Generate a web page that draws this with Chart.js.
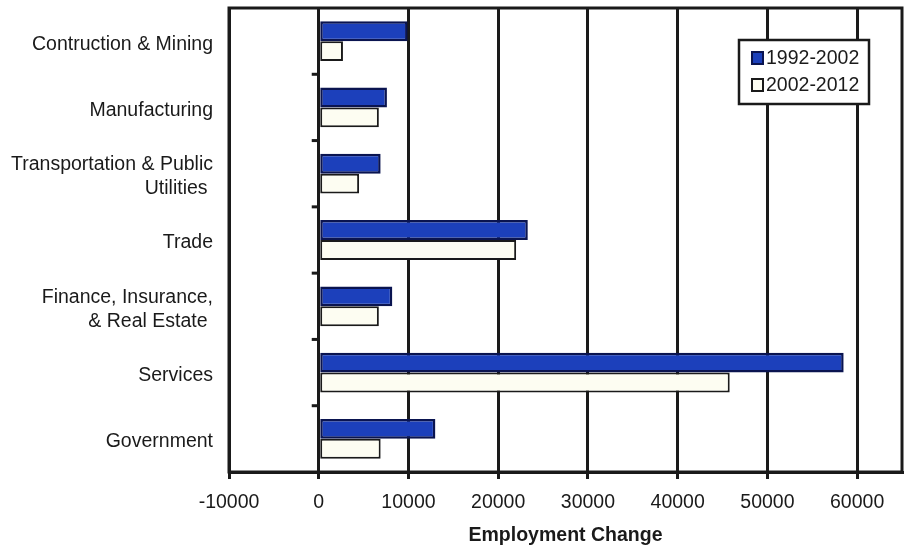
<!DOCTYPE html>
<html>
<head>
<meta charset="utf-8">
<script src="https://cdn.jsdelivr.net/npm/chart.js@4/dist/chart.umd.min.js"></script>
<style>
  html, body { margin: 0; padding: 0; background: #fff; }
  #wrap { width: 905px; height: 546px; }
</style>
</head>
<body>
<div id="wrap"><canvas id="c" width="905" height="546"></canvas></div>
<script>
// Employment change by industry, two ten-year periods
const categories = [
  'Contruction & Mining',
  'Manufacturing',
  ['Transportation & Public', 'Utilities '],
  'Trade',
  ['Finance, Insurance,', '& Real Estate '],
  'Services',
  'Government'
];
const change1992to2002 = [9900, 7600, 6900, 23300, 8200, 58500, 13000];
const change2002to2012 = [2700, 6700, 4500, 22000, 6700, 45800, 6900];
const seriesNames = ['1992-2002', '2002-2012'];
const xTickValues = [-10000, 0, 10000, 20000, 30000, 40000, 50000, 60000];
const xMin = -10000, xMax = 65000;

const FONT = "'Liberation Sans', Arial, Helvetica, sans-serif";
const FONT_SIZE = 19.5;
const INK = '#1a1a1a';

// Frame around the plot plus small category tick marks on the zero line
const framePlugin = {
  id: 'frame',
  afterDatasetsDraw(chart) {
    const { ctx, chartArea: a, scales } = chart;
    const x0 = scales.x.getPixelForValue(0);
    ctx.save();
    ctx.strokeStyle = INK;
    ctx.lineWidth = 3;
    for (let i = 0; i < categories.length - 1; i++) {
      const y = (scales.y.getPixelForValue(i) + scales.y.getPixelForValue(i + 1)) / 2;
      ctx.beginPath();
      ctx.moveTo(x0 - 7, y);
      ctx.lineTo(x0, y);
      ctx.stroke();
    }
    ctx.strokeRect(a.left, a.top, a.right - a.left, a.bottom - a.top);
    ctx.restore();
  }
};

// Boxed legend inside the plot, upper right
const boxLegendPlugin = {
  id: 'boxLegend',
  afterDraw(chart) {
    const { ctx } = chart;
    const bx = 739, by = 40, bw = 130, bh = 64;
    ctx.save();
    ctx.fillStyle = '#fff';
    ctx.fillRect(bx, by, bw, bh);
    ctx.strokeStyle = INK;
    ctx.lineWidth = 2.5;
    ctx.strokeRect(bx, by, bw, bh);
    ctx.font = FONT_SIZE + 'px ' + FONT;
    ctx.textBaseline = 'middle';
    chart.data.datasets.forEach((ds, i) => {
      const cy = by + 18 + i * 27;
      ctx.fillStyle = ds.backgroundColor;
      ctx.fillRect(752, cy - 6, 11, 12);
      ctx.strokeStyle = ds.borderColor;
      ctx.lineWidth = 2;
      ctx.strokeRect(752, cy - 6, 11, 12);
      ctx.fillStyle = INK;
      ctx.fillText(ds.label, 766, cy + 1);
    });
    ctx.restore();
  }
};

new Chart(document.getElementById('c'), {
  type: 'bar',
  data: {
    labels: categories,
    datasets: [
      {
        label: seriesNames[0],
        data: change1992to2002,
        backgroundColor: '#1c40bb',
        borderColor: '#0a1450',
        borderWidth: 2.5,
        borderSkipped: false
      },
      {
        label: seriesNames[1],
        data: change2002to2012,
        backgroundColor: '#fdfdf2',
        borderColor: '#1a1a1a',
        borderWidth: 2,
        borderSkipped: false
      }
    ]
  },
  options: {
    indexAxis: 'y',
    responsive: false,
    animation: false,
    devicePixelRatio: 1,
    layout: { padding: { top: 8, right: 3, bottom: 0, left: 0 } },
    categoryPercentage: 0.6,
    barPercentage: 1.0,
    plugins: {
      legend: { display: false },
      tooltip: { enabled: false }
    },
    scales: {
      x: {
        type: 'linear',
        min: xMin,
        max: xMax,
        afterBuildTicks(scale) {
          scale.ticks = xTickValues.map(v => ({ value: v }));
        },
        afterFit(scale) {
          scale.height = 74;
          scale.paddingLeft = 0;
          scale.paddingRight = 0;
        },
        grid: {
          color: INK,
          lineWidth: 3,
          drawTicks: true,
          tickLength: 7,
          tickColor: INK,
          tickWidth: 3
        },
        border: { display: true, color: INK, width: 3 },
        ticks: {
          color: INK,
          font: { family: FONT, size: FONT_SIZE },
          padding: 12,
          maxRotation: 0,
          autoSkip: false,
          callback: v => String(v)
        },
        title: {
          display: true,
          text: 'Employment Change',
          color: INK,
          font: { family: FONT, size: FONT_SIZE, weight: 'bold' },
          padding: { top: 0, bottom: -1 }
        }
      },
      y: {
        type: 'category',
        afterFit(scale) {
          scale.width = 229;
          scale.paddingTop = 0;
          scale.paddingBottom = 0;
        },
        grid: { display: false, drawTicks: false },
        border: { display: false },
        ticks: {
          color: INK,
          font: { family: FONT, size: FONT_SIZE, lineHeight: 1.22 },
          padding: 16,
          labelOffset: 3,
          autoSkip: false
        }
      }
    }
  },
  plugins: [framePlugin, boxLegendPlugin]
});
</script>
</body>
</html>
